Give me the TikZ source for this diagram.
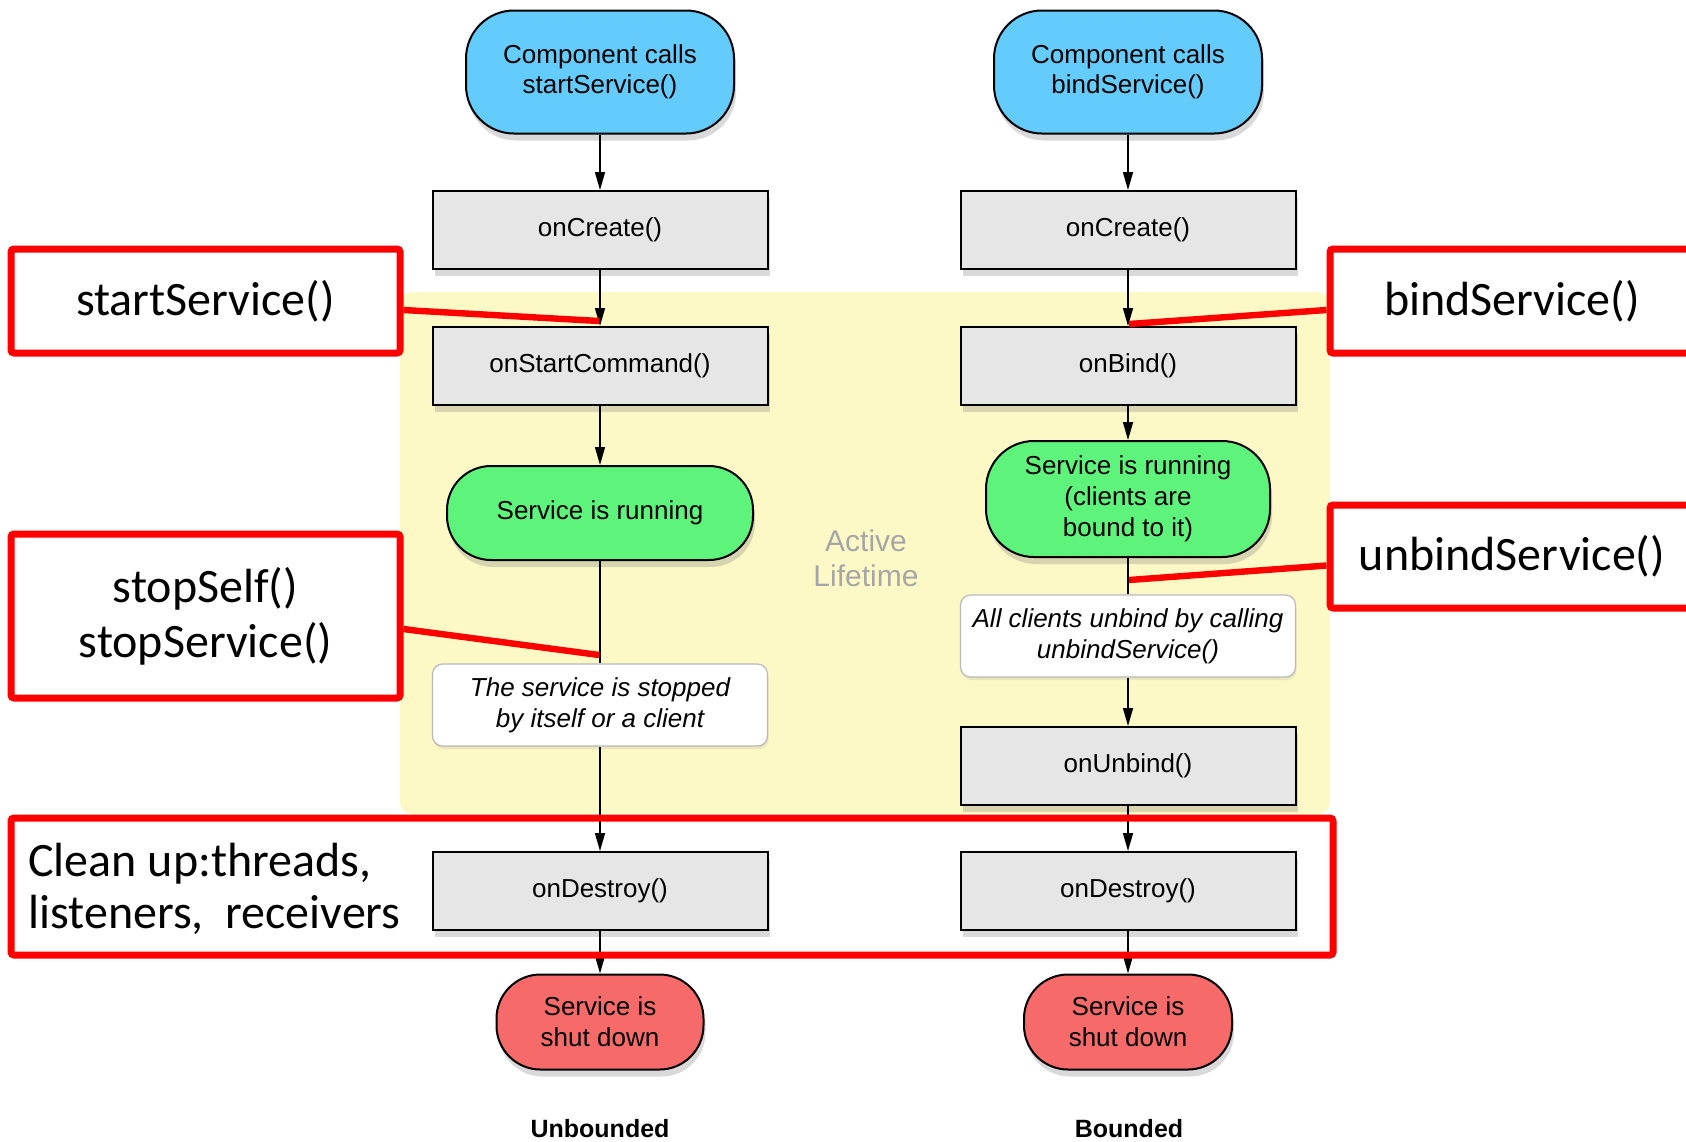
\documentclass[tikz,border=0pt]{standalone}
\usepackage{fontspec}
\setmainfont{Liberation Sans}
\newfontfamily\calib{Carlito}
\usetikzlibrary{shadows,arrows.meta,calc}
\definecolor{pillblue}{HTML}{64CCFC}
\definecolor{rungreen}{HTML}{5EF47C}
\definecolor{shutred}{HTML}{F76A6A}
\definecolor{boxgray}{HTML}{E6E6E6}
\definecolor{lifeyellow}{HTML}{FDF9C6}
\definecolor{annred}{HTML}{FF0000}
\begin{document}
\begin{tikzpicture}[x=0.5pt,y=-0.5pt,
  base/.style={draw=black, line width=1pt, inner sep=0pt, align=center,
    font=\fontsize{13}{15.5}\selectfont,
    drop shadow={shadow xshift=1pt, shadow yshift=-3.5pt, opacity=0.3}},
  pill/.style={base, rounded corners=24pt},
  proc/.style={base, fill=boxgray, minimum width=167.5pt, minimum height=39pt},
  notebox/.style={draw=gray!55, line width=0.6pt, fill=white, rounded corners=5pt,
    inner sep=0pt, align=center, minimum width=167.5pt, minimum height=41pt,
    font=\itshape\fontsize{13}{15.5}\selectfont,
    drop shadow={shadow xshift=0.5pt, shadow yshift=-1.5pt, opacity=0.15}},
  annbox/.style={draw=annred, line width=3.5pt, rounded corners=1.5pt, inner sep=0pt,
    align=center, font=\calib\fontsize{24}{27.5}\selectfont},
  annline/.style={draw=annred, line width=3.2pt},
  arr/.style={-{Triangle[length=9pt,width=5pt]}, line width=0.75pt},
  plainln/.style={line width=0.75pt},
  caption/.style={font=\bfseries\fontsize{12.5}{15}\selectfont}
]
\useasboundingbox (0,0) rectangle (1686,1141);

% active lifetime background
\fill[lifeyellow, rounded corners=6pt] (400,292) rectangle (1330,814);
\node[text=gray!70, align=center, font=\fontsize{15}{17.5}\selectfont] (life) at (866,558) {Active\\Lifetime};

% left column (unbounded)
\node[pill, fill=pillblue, minimum width=134pt, minimum height=61.5pt] (p1) at (600,72) {\raisebox{-2pt}{\shortstack{Component calls\\startService()}}};
\node[proc] (c1) at (600,230) {\raisebox{-1.5pt}{onCreate()}};
\node[proc] (sc) at (600,366) {\raisebox{-1.5pt}{onStartCommand()}};
\node[pill, fill=rungreen, rounded corners=22pt, minimum width=153pt, minimum height=47pt] (r1) at (600,513) {\raisebox{-1.5pt}{Service is running}};
\node[notebox] (st) at (600,705) {The service is stopped\\by itself or a client};
\node[proc] (d1) at (600,891) {\raisebox{-1.5pt}{onDestroy()}};
\node[pill, fill=shutred, rounded corners=22pt, minimum width=103.5pt, minimum height=47.5pt] (s1) at (600,1022) {Service is\\shut down};
\node[caption] (u1) at (600,1129) {Unbounded};

% right column (bounded)
\node[pill, fill=pillblue, minimum width=134pt, minimum height=61.5pt] (p2) at (1128,72) {\raisebox{-2pt}{\shortstack{Component calls\\bindService()}}};
\node[proc] (c2) at (1128,230) {\raisebox{-1.5pt}{onCreate()}};
\node[proc] (ob) at (1128,366) {\raisebox{-1.5pt}{onBind()}};
\node[pill, fill=rungreen, rounded corners=24pt, minimum width=142pt, minimum height=58pt] (r2) at (1128,499) {Service is running\\(clients are\\bound to it)};
\node[notebox] (ac) at (1128,636) {All clients unbind by calling\\unbindService()};
\node[proc] (ou) at (1128,766) {\raisebox{-1.5pt}{onUnbind()}};
\node[proc] (d2) at (1128,891) {\raisebox{-1.5pt}{onDestroy()}};
\node[pill, fill=shutred, rounded corners=22pt, minimum width=104pt, minimum height=47.5pt] (s2) at (1128,1022) {Service is\\shut down};
\node[caption] (u2) at (1129,1129) {Bounded};

% connectors
\draw[arr] (p1) -- (c1);
\draw[arr] (c1) -- (sc);
\draw[arr] (sc) -- (r1);
\draw[plainln] (r1) -- (st);
\draw[arr] (st) -- (d1);
\draw[arr] (d1) -- (s1);
\draw[arr] (p2) -- (c2);
\draw[arr] (c2) -- (ob);
\draw[arr] (ob) -- (r2);
\draw[plainln] (r2) -- (ac);
\draw[arr] (ac) -- (ou);
\draw[arr] (ou) -- (d2);
\draw[arr] (d2) -- (s2);

% annotations
\node[annbox, minimum width=194.5pt, minimum height=52pt] (ss) at (205.5,301) {startService()};
\node[annbox, minimum width=194.5pt, minimum height=82pt] (sp) at (205.5,616) {stopSelf()\\stopService()};
\node[annbox, minimum width=182pt, minimum height=52pt] (bs) at (1512,301) {bindService()};
\node[annbox, minimum width=182pt, minimum height=51.5pt] (ub) at (1512,556.5) {unbindService()};
\node[annbox, minimum width=661pt, minimum height=68.5pt] (cu) at (672,886.5) {};
\node[anchor=west, align=left, inner sep=0pt, font=\calib\fontsize{24}{26}\selectfont] (cut) at (28,889) {Clean up:threads,\\listeners,\ \ receivers};

\coordinate (ssT) at (599,321);
\coordinate (spT) at (599,655);
\coordinate (bsT) at (1129,324);
\coordinate (ubT) at (1129,580);
\draw[annline] ([yshift=-4.5pt]ss.east) -- (ssT);
\draw[annline] ([yshift=-6.5pt]sp.east) -- (spT);
\draw[annline] ([yshift=-4.5pt]bs.west) -- (bsT);
\draw[annline] ([yshift=-4.5pt]ub.west) -- (ubT);
\end{tikzpicture}
\end{document}
